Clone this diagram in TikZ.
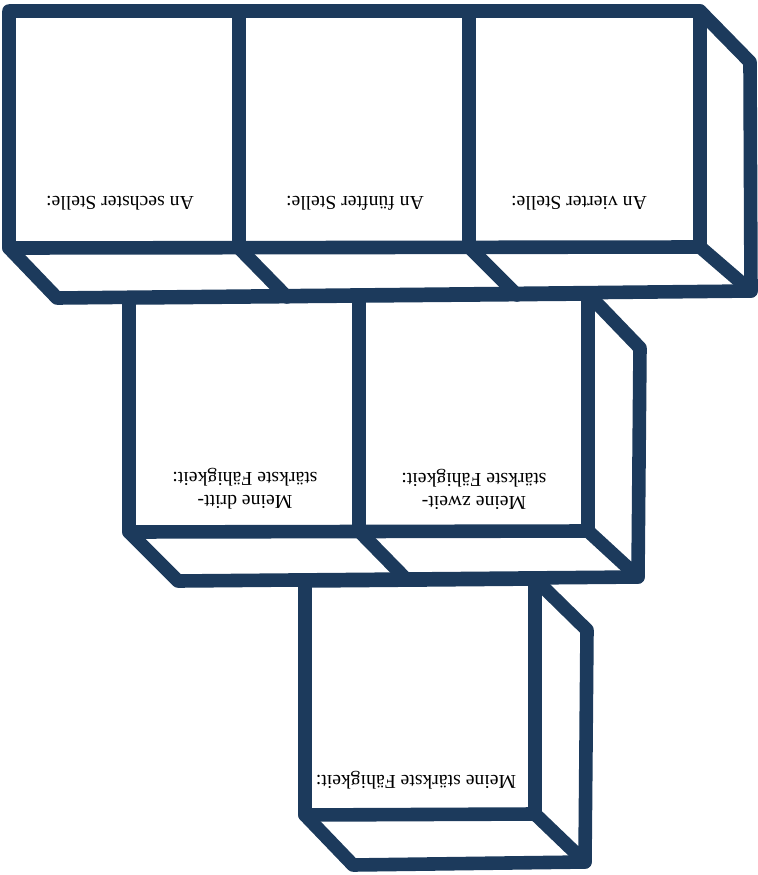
\documentclass[tikz,border=0pt]{standalone}
\usepackage{fontspec}
\setmainfont{Liberation Serif}
\usepackage{xcolor}
\usepackage{tikz}
\usetikzlibrary{positioning,calc}

\definecolor{cubeblue}{HTML}{1C3A5C}

\begin{document}
\begin{tikzpicture}[
    x=0.5pt, y=-0.5pt,
    edge/.style={draw=cubeblue,line width=6.8pt,line join=round,line cap=round},
    facetext/.style={rotate=180,inner sep=0pt,align=center,
                     font=\fontsize{9.85}{11.5}\selectfont},
  ]
  \useasboundingbox (0,0) rectangle (758,875);

  % --- top row: three cubes side by side ---
  \draw[edge] (9,11) -- (700,11) -- (700,247) -- (9,248) -- cycle;
  \draw[edge] (239,11) -- (239,248);
  \draw[edge] (469,11) -- (469,247);
  \draw[edge] (700,11) -- (750,62) -- (751,291) -- (700,247);
  \draw[edge] (9,248) -- (57,298) -- (751,291);
  \draw[edge] (239,248) -- (287,297);
  \draw[edge] (469,247) -- (517,295);

  % --- middle row: two cubes ---
  \draw[edge] (129,298) -- (588,294) -- (588,531) -- (129,532) -- cycle;
  \draw[edge] (359,297) -- (359,531);
  \draw[edge] (588,294) -- (640,348) -- (638,577) -- (588,531);
  \draw[edge] (129,532) -- (178,581) -- (638,577);
  \draw[edge] (359,531) -- (407,580);

  % --- bottom: single cube ---
  \draw[edge] (305,581) -- (535,579) -- (535,814) -- (305,815) -- cycle;
  \draw[edge] (535,579) -- (587,630) -- (585,862) -- (535,814);
  \draw[edge] (305,815) -- (353,865) -- (585,862);

  % --- face labels (upside down) ---
  \node[facetext] (sechs)  at (120,203) {An sechster Stelle:};
  \node[facetext] (fuenf)  at (355,203) {An fünfter Stelle:};
  \node[facetext] (vier)   at (579,203) {An vierter Stelle:};
  \node[facetext] (drei)   at (245,489) {Meine dritt-\\stärkste Fähigkeit:};
  \node[facetext] (zwei)   at (474,489) {Meine zweit-\\stärkste Fähigkeit:};
  \node[facetext] (eins)   at (416,780) {Meine stärkste Fähigkeit:};

\end{tikzpicture}
\end{document}
